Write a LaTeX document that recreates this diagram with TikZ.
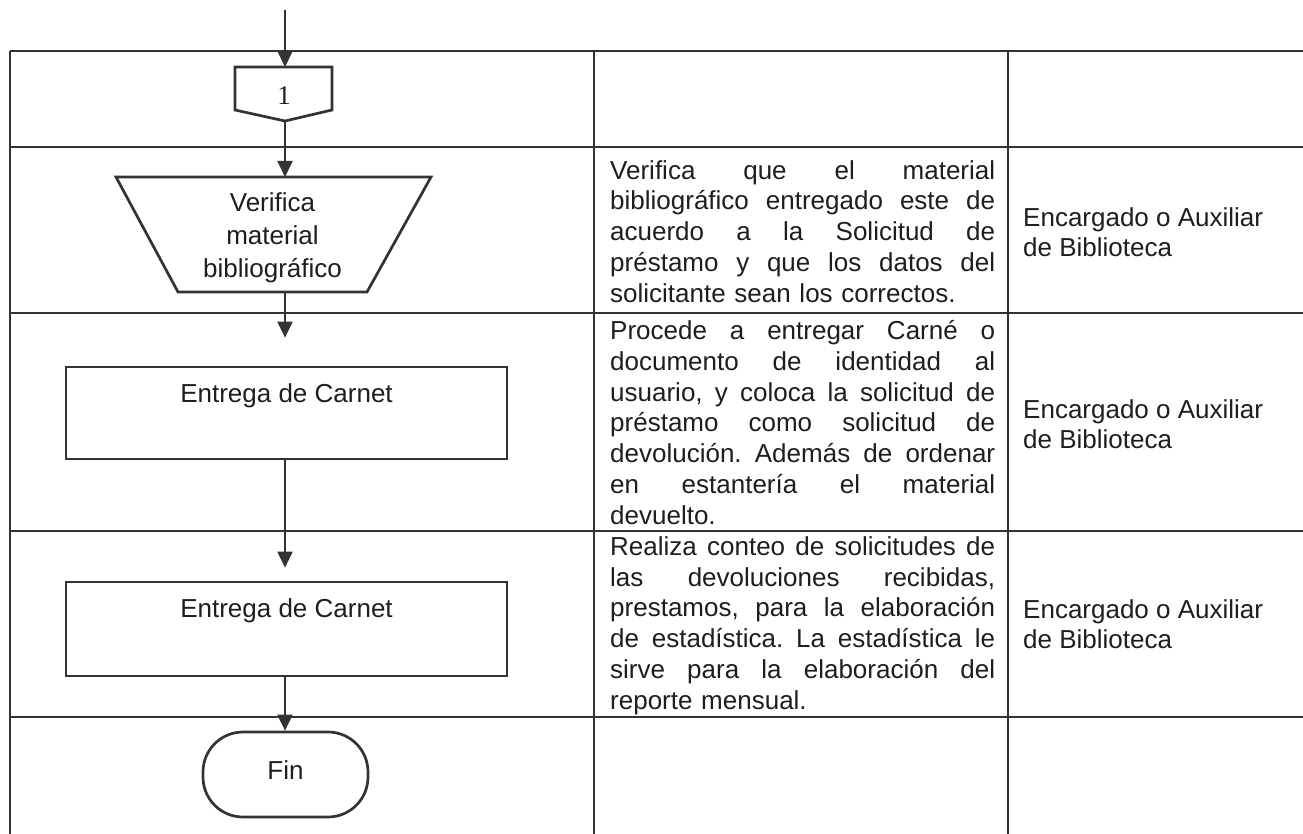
\documentclass[tikz,border=0pt]{standalone}
\usepackage{fontspec}
\setmainfont{Liberation Sans}
\newfontfamily\numfont{Liberation Serif}
\usetikzlibrary{arrows.meta}
\definecolor{ink}{HTML}{333333}
\definecolor{textink}{HTML}{1E1E1E}
\newcommand\justline[1]{\makebox[385pt][s]{\frenchspacing\spaceskip=\fontdimen2\font plus 1fil\relax #1}}
\begin{document}
\begin{tikzpicture}[x=1pt,y=-1pt,
  tbl/.style={line width=2pt, draw=ink},
  shp/.style={line width=2.7pt, draw=ink},
  flow/.style={line width=2pt, draw=ink, -{Triangle[length=16pt,width=15pt]}},
  txt/.style={font=\fontsize{26}{30.8}\selectfont\frenchspacing, text=textink, inner sep=0pt},
  desc/.style={txt, anchor=west, align=left, text width=385pt},
  resp/.style={font=\fontsize{26}{29.5}\selectfont, text=textink, inner sep=0pt, anchor=west, align=left},
  procbox/.style={shp, rectangle, txt, minimum width=441pt, text height=20pt}
]
\useasboundingbox (0,0) rectangle (1303,834);
\fill[white] (0,0) rectangle (1303,834);

% table
\foreach \yy in {51,147,313,531,717}{\draw[tbl] (10,\yy) -- (1303,\yy);}
\foreach \xx in {10,594,1008}{\draw[tbl] (\xx,51) -- (\xx,834);}

% off-page connector
\draw[shp] (235,67) -- (332,67) -- (332,110) -- (285,121) -- (235,110) -- cycle;
\node[text=textink, inner sep=0pt, font=\numfont\fontsize{27}{27}\selectfont] (c1) at (284,95.5) {1};
\coordinate (c1top) at (285,67);
\coordinate (c1bot) at (285,121);

% trapezoid
\draw[shp] (116,177) -- (431,177) -- (367,292) -- (178,292) -- cycle;
\node[txt, font=\fontsize{26}{33}\selectfont, align=center] (tz) at (272.5,238) {Verifica\\material\\bibliográfico};
\coordinate (tztop) at (285,177);
\coordinate (tzbot) at (285,292);

% process boxes
\node[procbox, minimum height=92pt, text depth=42pt] (b1) at (286.5,413) {Entrega de Carnet};
\node[procbox, minimum height=94pt, text depth=44pt] (b2) at (286.5,629) {Entrega de Carnet};

% terminal
\node[shp, rounded corners=40pt, minimum width=165pt, minimum height=85pt, txt, text height=18.6pt, text depth=9pt] (fin) at (285.5,774.5) {Fin};

% flow
\coordinate (start) at (285,10);
\draw[flow] (start) -- (c1top);
\draw[flow] (c1bot) -- (tztop);
\draw[flow, shorten >=28pt] (tzbot) -- (tzbot |- b1.north);
\draw[flow, shorten >=13pt] (b1.south -| tzbot) -- (b2.north -| tzbot);
\draw[flow] (b2.south -| tzbot) -- (fin.north -| tzbot);

% descriptions
\node[desc] (d2) at (610,231.5) {\justline{Verifica que el material}\\
\justline{bibliográfico entregado este de}\\
\justline{acuerdo a la Solicitud de}\\
\justline{préstamo y que los datos del}\\
solicitante sean los correctos.};
\node[desc] (d3) at (610,422.5) {\justline{Procede a entregar Carné o}\\
\justline{documento de identidad al}\\
\justline{usuario, y coloca la solicitud de}\\
\justline{préstamo como solicitud de}\\
\justline{devolución. Además de ordenar}\\
\justline{en estantería el material}\\
devuelto.};
\node[desc] (d4) at (610,625.5) {\justline{Realiza conteo de solicitudes de}\\
\justline{las devoluciones recibidas,}\\
\justline{prestamos, para la elaboración}\\
\justline{de estadística. La estadística le}\\
\justline{sirve para la elaboración del}\\
reporte mensual.};

% responsible
\node[resp] (r2) at (1023,232) {Encargado o Auxiliar\\de Biblioteca};
\node[resp] (r3) at (1023,424) {Encargado o Auxiliar\\de Biblioteca};
\node[resp] (r4) at (1023,624) {Encargado o Auxiliar\\de Biblioteca};
\end{tikzpicture}
\end{document}
